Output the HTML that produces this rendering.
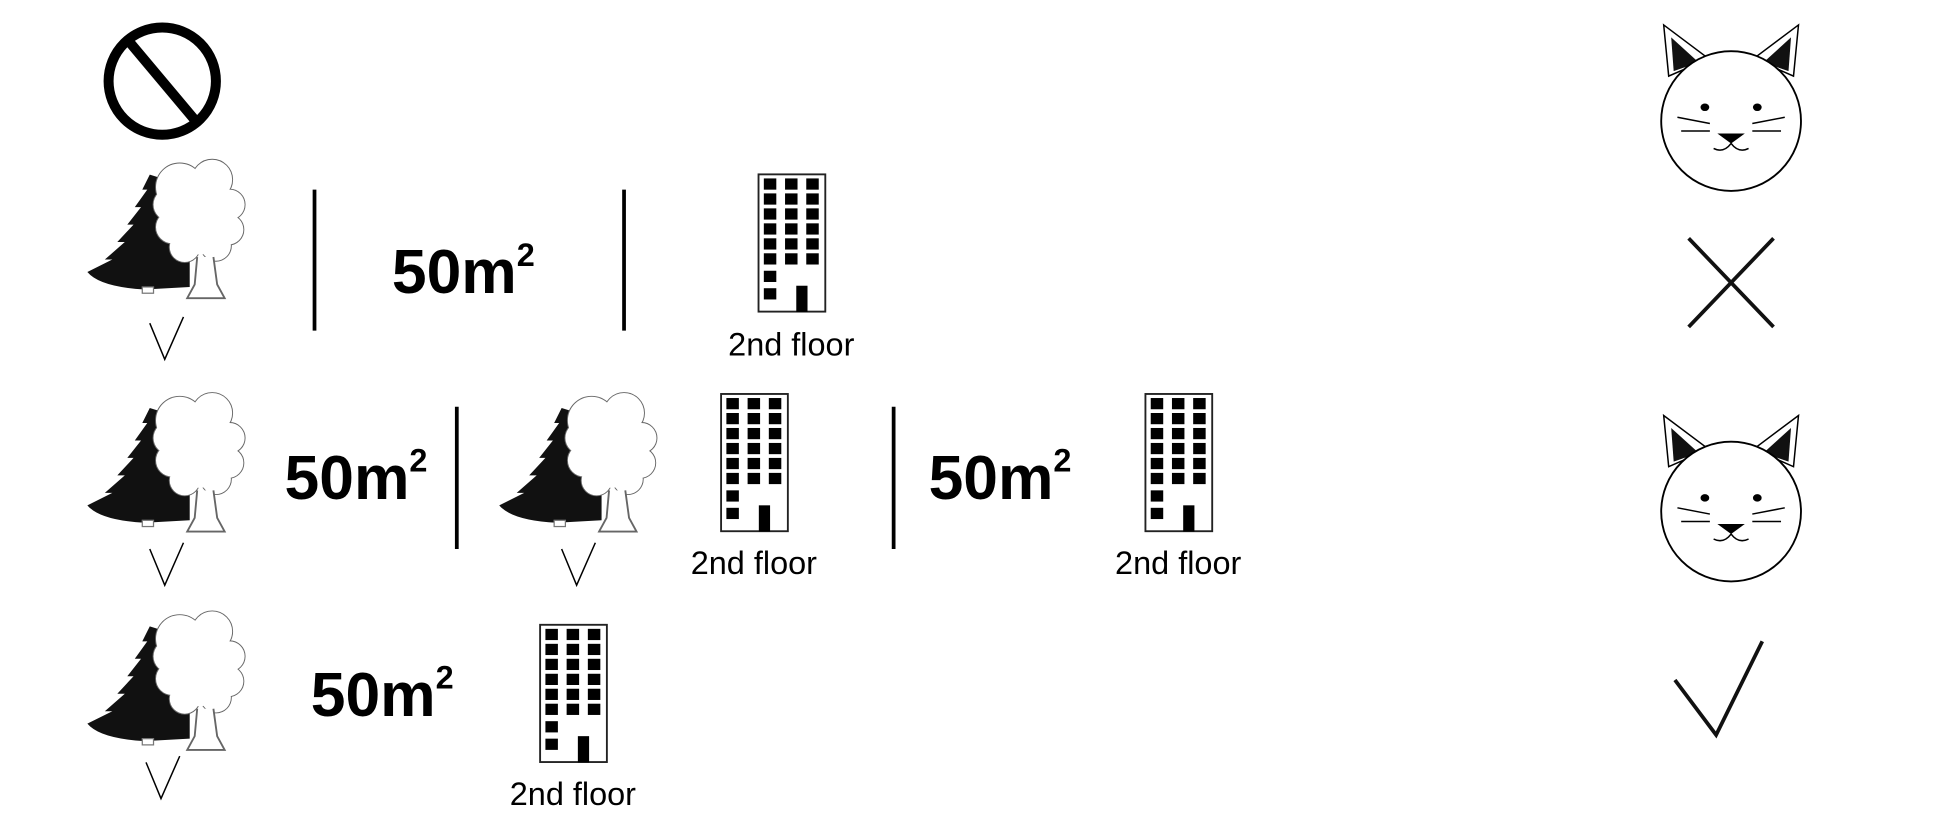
<!DOCTYPE html>
<html><head><meta charset="utf-8"><style>
html,body{margin:0;padding:0;background:#fff;}
svg{display:block;}
text{font-family:"Liberation Sans",sans-serif;fill:#000;}
.big{font-size:50px;font-weight:bold;}
.sup{font-size:26px;font-weight:bold;}
.lbl{font-size:26px;}
</style></head><body>
<svg width="1957" height="821" viewBox="0 0 1568 658" preserveAspectRatio="none" xmlns="http://www.w3.org/2000/svg">
<defs>
<g id="tree">
 <path d="M50 10 L44 22 L48 22 L38 36 L43 36 L32 50 L37 50 L24 64 L30 64 L14 78 L20 78 L0 88 Q10 100 46 102 L82 100 L82 20 Z" fill="#111"/>
 <rect x="44" y="100" width="9" height="5" fill="#fff" stroke="#777" stroke-width="1"/>
 <g fill="none" stroke="#666" stroke-width="1.5">
  <circle cx="74" cy="20" r="19"/><circle cx="100" cy="14" r="16"/><circle cx="114" cy="34" r="12"/>
  <circle cx="113" cy="54" r="12"/><circle cx="103" cy="67" r="12"/><circle cx="78" cy="68" r="12"/>
  <circle cx="68" cy="52" r="13"/><circle cx="66" cy="34" r="13"/>
 </g>
 <g fill="#fff">
  <circle cx="74" cy="20" r="19"/><circle cx="100" cy="14" r="16"/><circle cx="114" cy="34" r="12"/>
  <circle cx="113" cy="54" r="12"/><circle cx="103" cy="67" r="12"/><circle cx="78" cy="68" r="12"/>
  <circle cx="68" cy="52" r="13"/><circle cx="66" cy="34" r="13"/>
  <ellipse cx="90" cy="44" rx="24" ry="30"/>
 </g>
 <path d="M88 76 L86 98 L80 109 L110 109 L104 98 L101 76" fill="#fff" stroke="#666" stroke-width="1.5"/>
</g>
<g id="bld">
 <rect x="0.75" y="0.75" width="53.5" height="110" fill="#fff" stroke="#222" stroke-width="1.5"/>
 <g fill="#000">
  <rect x="5" y="4" width="10" height="9"/><rect x="22" y="4" width="10" height="9"/><rect x="39" y="4" width="10" height="9"/>
  <rect x="5" y="16" width="10" height="9"/><rect x="22" y="16" width="10" height="9"/><rect x="39" y="16" width="10" height="9"/>
  <rect x="5" y="28" width="10" height="9"/><rect x="22" y="28" width="10" height="9"/><rect x="39" y="28" width="10" height="9"/>
  <rect x="5" y="40" width="10" height="9"/><rect x="22" y="40" width="10" height="9"/><rect x="39" y="40" width="10" height="9"/>
  <rect x="5" y="52" width="10" height="9"/><rect x="22" y="52" width="10" height="9"/><rect x="39" y="52" width="10" height="9"/>
  <rect x="5" y="64" width="10" height="9"/><rect x="22" y="64" width="10" height="9"/><rect x="39" y="64" width="10" height="9"/>
  <rect x="5" y="78" width="10" height="9"/><rect x="5" y="92" width="10" height="9"/>
  <rect x="31" y="90" width="9" height="21"/>
 </g>
</g>
<g id="chk"><path d="M-13 -12 L-1 17 L14 -17" fill="none" stroke="#000" stroke-width="1.2"/></g>
<g id="cat">
 <path d="M-54 -77 L-50 -36 L-18 -50 Z" fill="#fff" stroke="#000" stroke-width="1.2"/>
 <path d="M54 -77 L50 -36 L18 -50 Z" fill="#fff" stroke="#000" stroke-width="1.2"/>
 <path d="M-48 -67 L-46 -40 L-26 -47 Z" fill="#111"/>
 <path d="M48 -67 L46 -40 L26 -47 Z" fill="#111"/>
 <ellipse cx="0" cy="0" rx="56" ry="56" fill="#fff" stroke="#000" stroke-width="1.5"/>
 <ellipse cx="-21" cy="-11" rx="3.5" ry="3" fill="#000"/>
 <ellipse cx="21" cy="-11" rx="3.5" ry="3" fill="#000"/>
 <g stroke="#000" stroke-width="1.2" fill="none">
  <path d="M-43 -3 L-17 2"/><path d="M-40 8 L-17 8"/>
  <path d="M43 -3 L17 2"/><path d="M40 8 L17 8"/>
  <path d="M-14 22 Q-6 26 0 18 Q6 26 14 22"/>
 </g>
 <path d="M-11 10 L11 10 L0 18 Z" fill="#000"/>
</g>
</defs>

<circle cx="130" cy="65" r="43" fill="none" stroke="#000" stroke-width="8"/>
<line x1="104" y1="34" x2="156" y2="96" stroke="#000" stroke-width="8"/>

<use href="#tree" x="70" y="130"/>
<use href="#chk" x="133" y="271"/>
<line x1="252" y1="152" x2="252" y2="265" stroke="#000" stroke-width="3"/>
<text class="big" x="314" y="235">50m<tspan class="sup" dy="-22">2</tspan></text>
<line x1="500" y1="152" x2="500" y2="265" stroke="#000" stroke-width="3"/>
<use href="#bld" x="607" y="139"/>
<text class="lbl" x="634" y="285" text-anchor="middle">2nd floor</text>

<use href="#tree" x="70" y="317"/>
<use href="#chk" x="133" y="452"/>
<text class="big" x="228" y="400">50m<tspan class="sup" dy="-22">2</tspan></text>
<line x1="366" y1="326" x2="366" y2="440" stroke="#000" stroke-width="3"/>
<use href="#tree" x="400" y="317"/>
<use href="#chk" x="463" y="452"/>
<use href="#bld" x="577" y="315"/>
<text class="lbl" x="604" y="460" text-anchor="middle">2nd floor</text>
<line x1="716" y1="326" x2="716" y2="440" stroke="#000" stroke-width="3"/>
<text class="big" x="744" y="400">50m<tspan class="sup" dy="-22">2</tspan></text>
<use href="#bld" x="917" y="315"/>
<text class="lbl" x="944" y="460" text-anchor="middle">2nd floor</text>

<use href="#tree" x="70" y="492"/>
<use href="#chk" x="130" y="623"/>
<text class="big" x="249" y="574">50m<tspan class="sup" dy="-22">2</tspan></text>
<use href="#bld" x="432" y="500"/>
<text class="lbl" x="459" y="645" text-anchor="middle">2nd floor</text>

<use href="#cat" x="1387" y="97"/>
<line x1="1353" y1="191" x2="1421" y2="262" stroke="#111" stroke-width="3"/>
<line x1="1353" y1="262" x2="1421" y2="191" stroke="#111" stroke-width="3"/>
<use href="#cat" x="1387" y="410"/>
<path d="M1342 545 L1375 589 L1412 514" fill="none" stroke="#111" stroke-width="3"/>
</svg>
</body></html>
